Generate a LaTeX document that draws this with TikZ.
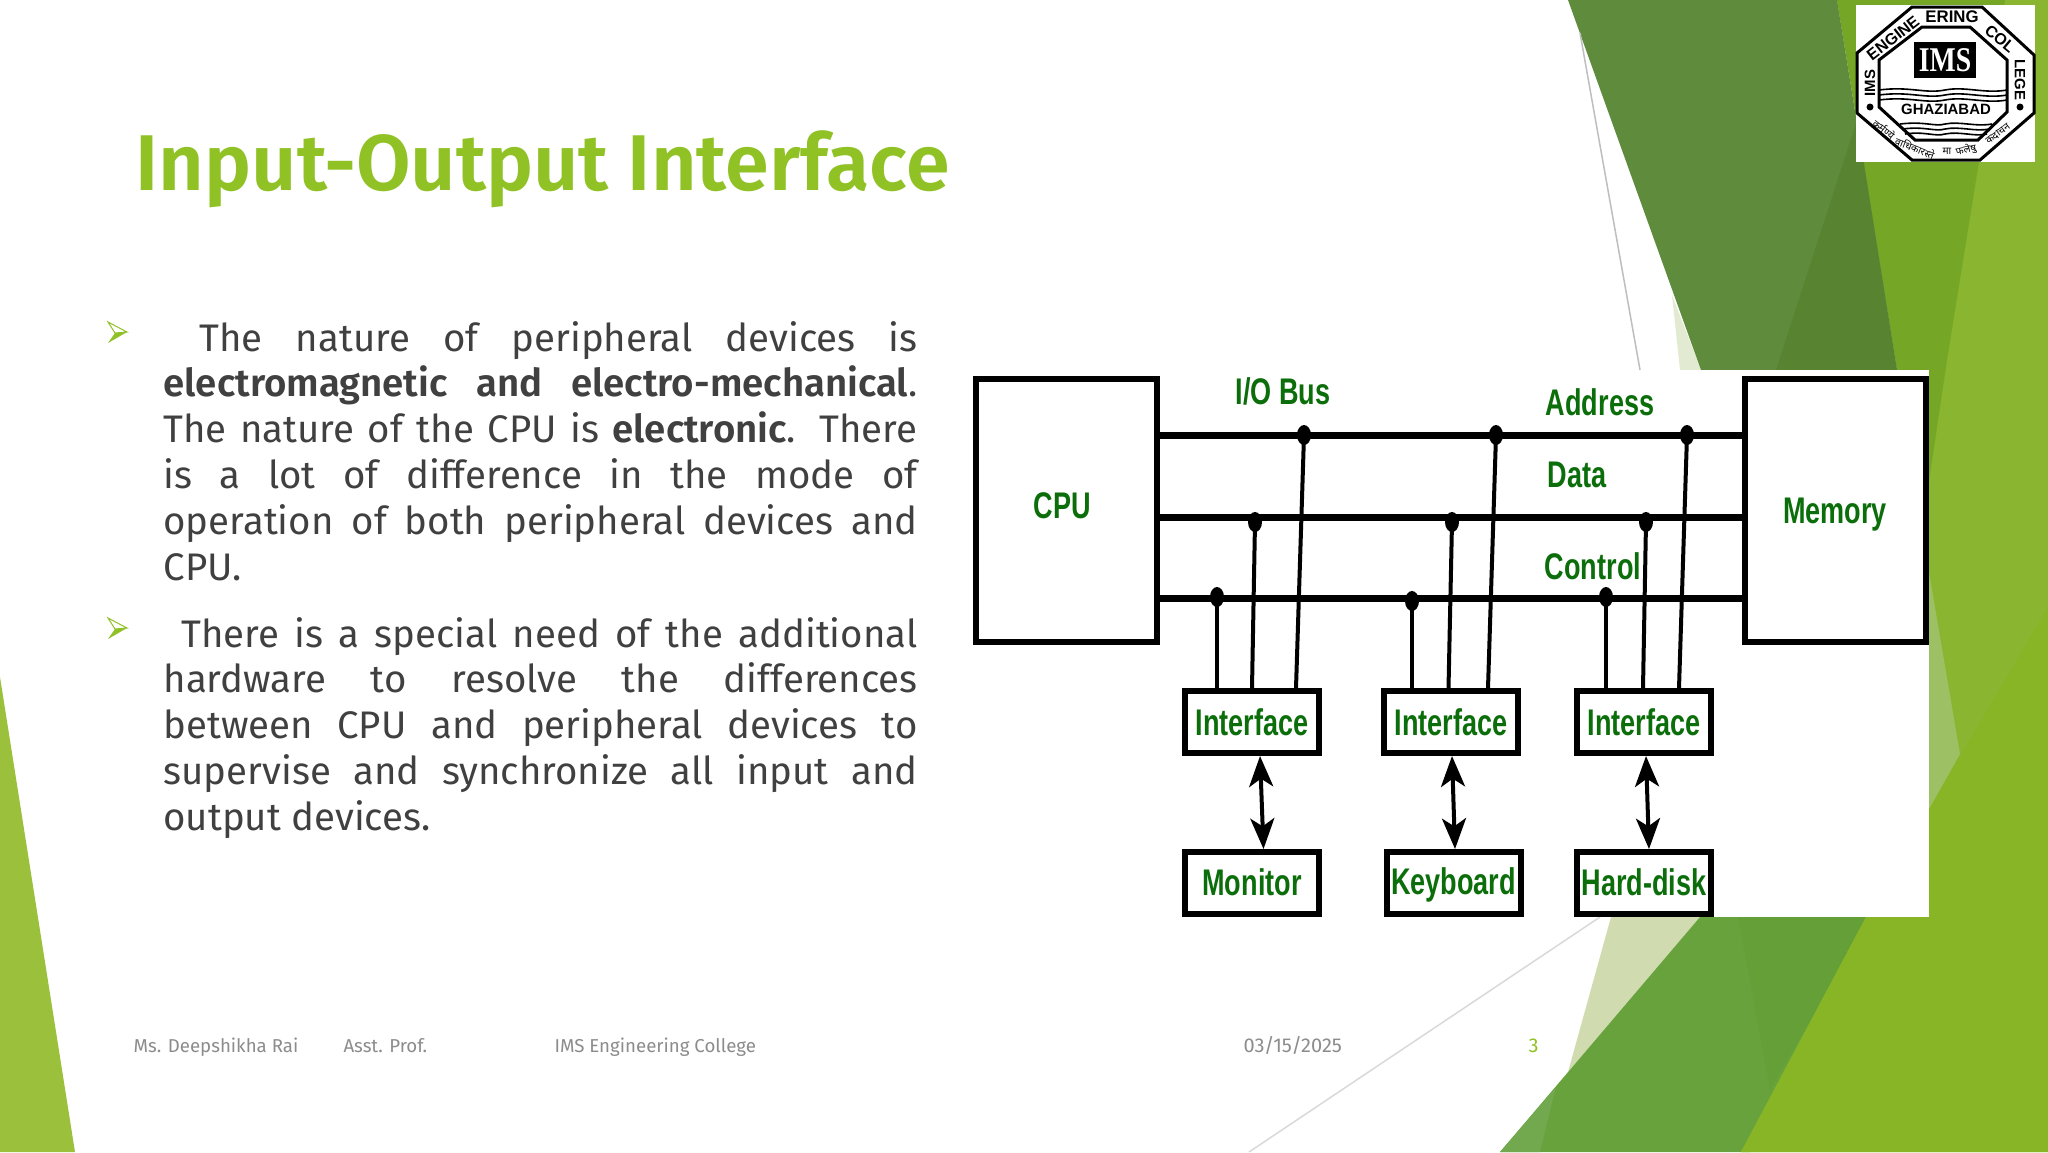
\documentclass[tikz,border=0pt]{standalone}
\usepackage{fontspec}
\usetikzlibrary{arrows.meta,shapes.geometric}
\setmainfont[BoldFont={Fira Sans SemiBold}]{Fira Sans}
\newfontfamily\diagfont{Liberation Sans}
\newfontfamily\logoserif{Liberation Serif}
\newfontfamily\hindifont[Script=Devanagari]{Noto Sans}
\definecolor{lime}{HTML}{90C226}
\definecolor{bodytxt}{HTML}{404040}
\definecolor{foot}{HTML}{8C8C8C}
\definecolor{diag}{HTML}{0B6E0B}
\newlength{\pxu}\setlength{\pxu}{0.375pt}
\hbadness=10000 \hfuzz=50pt
\newcommand{\jl}[1]{\hbox to 754\pxu{#1}}
\newcommand{\dlab}[1]{\scalebox{0.73}[1]{\diagfont\bfseries\fontsize{13.9pt}{16pt}\selectfont #1}}
\newcommand{\logot}[2][5.6pt]{{\diagfont\bfseries\fontsize{#1}{8pt}\selectfont #2}}
\newcommand{\hindit}[1]{{\hindifont\fontsize{3.8pt}{5pt}\selectfont #1}}
\tikzset{
  x=0.375pt,y=-0.375pt,
  box/.style={draw=black,line width=6\pxu,inner sep=0pt,outer sep=0pt,minimum width=134\pxu,minimum height=62\pxu,text=diag},
  bigbox/.style={draw=black,line width=6\pxu,inner sep=0pt,outer sep=0pt,minimum width=181\pxu,minimum height=263\pxu,text=diag},
  lab/.style={text=diag,inner sep=0pt},
  bus/.style={line width=7\pxu,black},
  tap/.style={line width=4\pxu,black},
  busdot/.style={ellipse,fill=black,inner sep=0pt,minimum width=14\pxu,minimum height=20\pxu},
  link/.style={line width=4\pxu,black,{Stealth[length=11.5pt,width=9pt,inset=3pt]}-{Stealth[length=11.5pt,width=9pt,inset=3pt]}},
  foottxt/.style={text=foot,font=\fontsize{7pt}{9pt}\selectfont,inner sep=0pt,anchor=base west},
  bodypara/.style={text=bodytxt,font=\fontsize{14.4pt}{17pt}\selectfont,inner sep=0pt,anchor=base west},
  logotxt/.style={inner sep=0pt,text=black},
}
\begin{document}
\begin{tikzpicture}
\useasboundingbox (0,0) rectangle (2048,1152);
\fill[white] (0,0) rectangle (2048,1152);
% bottom shapes behind the lime
\draw[color={rgb,255:red,217;green,217;blue,217},line width=1.5\pxu] (1249,1152) -- (1600,917);
\fill[color={rgb,255:red,208;green,220;blue,175}] (1611,917) -- (1700,917) -- (1568,1072) -- cycle;
\fill[color={rgb,255:red,104;green,162;blue,60}] (1700,917) -- (1875,917) -- (1750,1152) -- (1500,1152) -- cycle;
\fill[color={rgb,255:red,100;green,160;blue,55}] (1738,917) -- (1870,917) -- (1770,1090) -- cycle;
\fill[color={rgb,255:red,114;green,168;blue,78}] (1556,1087) -- (1540,1152) -- (1500,1152) -- cycle;
% right lime base
\fill[color={rgb,255:red,137;green,181;blue,48}] (1837,0) -- (2048,0) -- (2048,1152) -- (1741,1152) -- (1866,917) -- (1900,370) -- cycle;
\fill[color={rgb,255:red,135;green,181;blue,38}] (1929,809) -- (2048,607) -- (2048,1152) -- (1741,1152) -- (1866,917) -- (1929,917) -- cycle;
\fill[color={rgb,255:red,156;green,192;blue,99}] (1929,572) -- (1960,754) -- (1929,809) -- cycle;
\fill[color={rgb,255:red,117;green,166;blue,37}] (1837,0) -- (2005,0) -- (1947,360) -- (1929,481) -- (1897,370) -- cycle;
% left lime
\fill[color={rgb,255:red,154;green,192;blue,60}] (0,677) -- (75,1152) -- (0,1152) -- cycle;
% top dark shapes
\fill[color={rgb,255:red,226;green,234;blue,210}] (1672,295) -- (1701,370) -- (1680,370) -- cycle;
\fill[color={rgb,255:red,95;green,139;blue,61}] (1568,0) -- (1837,0) -- (1897,370) -- (1701,370) -- cycle;
\fill[color={rgb,255:red,88;green,131;blue,49}] (1857,120) -- (1897,370) -- (1776,370) -- cycle;
\draw[color={rgb,255:red,190;green,190;blue,190},line width=1.5\pxu] (1580,33) -- (1640,370);
% picture backing
\fill[white] (960,370) rectangle (1929,917);
% title
\node[text=lime,font=\fontsize{29.65pt}{36pt}\selectfont\bfseries,inner sep=0pt,anchor=base west] (title) at (135,190) {Input-Output Interface};
% bullets
\foreach \yy/\nm in {0/a,296/b}{
  \fill[lime] (127,332+\yy) -- (115,333+\yy) -- (108,343+\yy) -- cycle;
  \draw[lime,line width=1\pxu] (108,322+\yy) -- (127,332+\yy) -- (115,333+\yy) -- cycle;
}
% body
\node[bodypara] (p1) at (163,351) {\vtop{\baselineskip=45.8\pxu\lineskiplimit=-20pt
  \jl{\hspace*{36\pxu}The nature of peripheral devices is}
  \jl{\textbf{electromagnetic and electro-mechanical}.}
  \jl{The nature of the CPU is \textbf{electronic}. There}
  \jl{is a lot of difference in the mode of}
  \jl{operation of both peripheral devices and}
  \hbox{CPU.}}};
\node[bodypara] (p2) at (163,647) {\vtop{\baselineskip=45.8\pxu\lineskiplimit=-20pt
  \jl{\hspace*{18\pxu}There is a special need of the additional}
  \jl{hardware to resolve the differences}
  \jl{between CPU and peripheral devices to}
  \jl{supervise and synchronize all input and}
  \hbox{output devices.}}};
% footer
\node[foottxt] (f1) at (133,1052) {Ms. Deepshikha Rai};
\node[foottxt] (f2) at (343,1052) {Asst. Prof.};
\node[foottxt] (f3) at (554,1052) {IMS Engineering College};
\node[foottxt,font=\fontsize{7.5pt}{9pt}\selectfont] (f4) at (1243,1052) {03/15/2025};
\node[foottxt,text=lime,font=\fontsize{7.5pt}{9pt}\selectfont] (f5) at (1528,1052) {3};
% diagram boxes
\node[bigbox] (cpu) at (1066.5,510.5) {\vbox{\hbox{\dlab{CPU}\kern 8\pxu}\vskip 10\pxu}};
\node[bigbox] (mem) at (1835,510.5) {\vbox{\vskip 8\pxu\hbox{\dlab{Memory}}}};
\node[box] (if1) at (1252,722) {\dlab{Interface}};
\node[box] (if2) at (1451,722) {\dlab{Interface}};
\node[box] (if3) at (1644,722) {\dlab{Interface}};
\node[box] (dev1) at (1252,882.5) {\dlab{Monitor}};
\node[box] (dev2) at (1453.5,882.5) {\vbox{\vskip 5\pxu\hbox{\dlab{Keyboard}}}};
\node[box] (dev3) at (1644,882.5) {\dlab{Hard-disk}};
\node[lab] (lio) at (1283,391) {\dlab{I/O Bus}};
\node[lab] (lad) at (1600,402) {\dlab{Address}};
\node[lab] (lda) at (1577,475) {\dlab{Data}};
\node[lab] (lco) at (1593,566) {\dlab{Control}};
% buses
\coordinate (ya) at (1200,435);
\coordinate (yd) at (1200,517);
\coordinate (yc) at (1200,598.5);
\draw[bus] (cpu.east |- ya) -- (mem.west |- ya);
\draw[bus] (cpu.east |- yd) -- (mem.west |- yd);
\draw[bus] (cpu.east |- yc) -- (mem.west |- yc);
% dots
\node[busdot] (a1) at (1304,435) {};
\node[busdot] (a2) at (1496,435) {};
\node[busdot] (a3) at (1687,435) {};
\node[busdot] (d1) at (1255,522) {};
\node[busdot] (d2) at (1452,522) {};
\node[busdot] (d3) at (1646,522) {};
\node[busdot] (c1) at (1217,597) {};
\node[busdot] (c2) at (1412,601) {};
\node[busdot] (c3) at (1606,597) {};
% tap ends on interfaces
\coordinate (t1c) at (1217,688); \coordinate (t1d) at (1252,688); \coordinate (t1a) at (1296,688);
\coordinate (t2c) at (1412,688); \coordinate (t2d) at (1448.5,688); \coordinate (t2a) at (1488,688);
\coordinate (t3c) at (1606,688); \coordinate (t3d) at (1643,688); \coordinate (t3a) at (1679,688);
\draw[tap] (c1.center) -- (t1c); \draw[tap] (d1.center) -- (t1d); \draw[tap] (a1.center) -- (t1a);
\draw[tap] (c2.center) -- (t2c); \draw[tap] (d2.center) -- (t2d); \draw[tap] (a2.center) -- (t2a);
\draw[tap] (c3.center) -- (t3c); \draw[tap] (d3.center) -- (t3d); \draw[tap] (a3.center) -- (t3a);
% double arrows
\coordinate (l1t) at (1260,756); \coordinate (l1b) at (1263.5,849);
\coordinate (l2t) at (1452,756); \coordinate (l2b) at (1455,849);
\coordinate (l3t) at (1646,756); \coordinate (l3b) at (1649,849);
\draw[link] (l1t) -- (l1b);
\draw[link] (l2t) -- (l2b);
\draw[link] (l3t) -- (l3b);
% logo
\fill[white] (1856,5) rectangle (2035,162);
\draw[black,line width=3\pxu] (1912,7) -- (1982,7) -- (2034,55) -- (2034,113) -- (1980,160) -- (1912,160) -- (1857,113) -- (1857,53) -- cycle;
\draw[black,line width=3\pxu] (1922,27) -- (1970,27) -- (2007,60) -- (2007,112) -- (1978,140) -- (1915,140) -- (1879,107) -- (1879,60) -- cycle;
\node[fill=black,minimum width=62\pxu,minimum height=36\pxu,inner sep=0pt] (ims) at (1945,60) {\textcolor{white}{\logoserif\bfseries\fontsize{13pt}{14pt}\selectfont\scalebox{0.8}[1]{IMS}}};
\foreach \yy in {90,95,100}{
  \draw[black,line width=1.6\pxu] (1879,\yy) .. controls (1910,\yy-4) and (1925,\yy+4) .. (1945,\yy) .. controls (1965,\yy-4) and (1985,\yy+4) .. (2007,\yy);
}
\foreach \yy in {124,129,134}{
  \draw[black,line width=1.6\pxu] (1900+\yy*0.5-62,\yy) .. controls (1925,\yy-3) and (1935,\yy+3) .. (1945,\yy) .. controls (1960,\yy-3) and (1975,\yy+3) .. (1992-\yy*0.5+62,\yy);
}
\node[logotxt] (lg1) at (1946,109) {\logot{GHAZIABAD}};
\node[logotxt,rotate=38] (lg2) at (1893,38) {\logot[6pt]{ENGINE}};
\node[logotxt] (lg3) at (1952,17) {\logot[6.3pt]{ERING}};
\node[logotxt,rotate=-40] (lg4) at (2000,39) {\logot[6pt]{COL}};
\node[logotxt,rotate=-90] (lg5) at (2020,80) {\logot{LEGE}};
\node[logotxt,rotate=90] (lg6) at (1870,83) {\logot{IMS}};
\fill[black] (1870,107) circle (3.5);
\fill[black] (2020,107) circle (3.5);
\node[logotxt,rotate=-38] (hi1) at (1884,129) {\hindit{कर्मण्ये}};
\node[logotxt,rotate=-22] (hi2) at (1915,148) {\hindit{वाधिकारस्ते}};
\node[logotxt] (hi3) at (1947,151) {\hindit{मा}};
\node[logotxt,rotate=12] (hi4) at (1966,150) {\hindit{फलेषु}};
\node[logotxt,rotate=38] (hi5) at (1998,134) {\hindit{कदाचन}};
\end{tikzpicture}
\end{document}
